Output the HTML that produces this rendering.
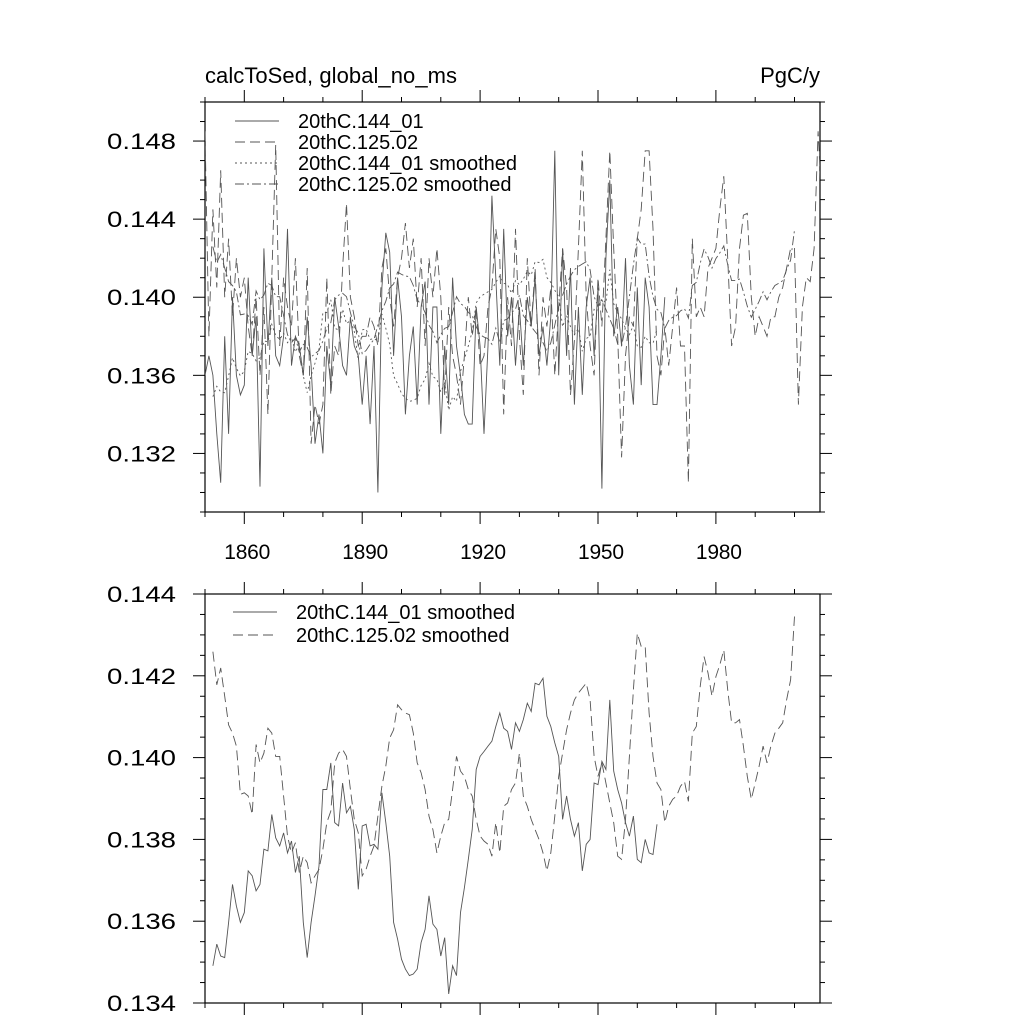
<!DOCTYPE html>
<html><head><meta charset="utf-8"><style>
html,body{margin:0;padding:0;background:#fff;}
svg{display:block;font-family:"Liberation Sans",sans-serif;}
</style></head><body>
<svg id="chart" width="1024" height="1024" viewBox="0 0 1024 1024">
<text x="205" y="83" font-size="22" textLength="252">calcToSed, global_no_ms</text>
<text x="820" y="83" font-size="22" text-anchor="end">PgC/y</text>
<g id="top"></g>
<g id="bot"></g>
</svg>
<script>
const xTickYears = [1860,1890,1920,1950,1980];
const xTickLabels = ["1860","1890","1920","1950","1980"];
const topYTicks = [0.132,0.136,0.140,0.144,0.148];
const topYLabels = ["0.132","0.136","0.140","0.144","0.148"];
const botYTicks = [0.134,0.136,0.138,0.140,0.142,0.144];
const botYLabels = ["0.134","0.136","0.138","0.140","0.142","0.144"];
const rawStartYear = 1850;
const smoothStartYear = 1852;
const run144 = [0.136,0.137,0.136,0.133,0.1305,0.138,0.133,0.140,0.136,0.135,0.1355,0.141,0.137,0.139,0.1303,0.1425,0.1375,0.141,0.137,0.1365,0.138,0.1435,0.1365,0.138,0.1375,0.136,0.139,0.1365,0.1325,0.134,0.132,0.1375,0.1355,0.140,0.1385,0.1365,0.136,0.139,0.1375,0.137,0.1345,0.137,0.1335,0.1375,0.1300,0.1405,0.1433,0.1423,0.137,0.141,0.139,0.134,0.137,0.1385,0.1345,0.1395,0.1408,0.1345,0.1395,0.1395,0.133,0.1375,0.1345,0.141,0.1375,0.136,0.134,0.1335,0.1335,0.1395,0.1375,0.133,0.1375,0.1452,0.141,0.1365,0.1435,0.138,0.140,0.1365,0.1395,0.1365,0.140,0.1385,0.141,0.137,0.1385,0.1365,0.139,0.1475,0.136,0.1425,0.137,0.1415,0.1345,0.1395,0.135,0.1395,0.141,0.137,0.1405,0.1302,0.142,0.146,0.138,0.1395,0.1375,0.142,0.1365,0.1345,0.1405,0.1355,0.141,0.1395,0.1345,0.1345,0.137,0.140];
const run125 = [0.1485,0.138,0.1445,0.1405,0.1465,0.140,0.143,0.139,0.142,0.140,0.141,0.1385,0.137,0.140,0.136,0.1395,0.134,0.141,0.1478,0.1375,0.141,0.1395,0.1385,0.142,0.137,0.136,0.1415,0.1325,0.1345,0.1335,0.1345,0.141,0.135,0.1375,0.137,0.1415,0.1448,0.140,0.139,0.1375,0.138,0.138,0.139,0.1385,0.1375,0.1415,0.1425,0.140,0.1385,0.141,0.142,0.1438,0.1415,0.143,0.1395,0.142,0.1375,0.142,0.140,0.1425,0.140,0.135,0.1395,0.137,0.136,0.1345,0.137,0.140,0.138,0.1395,0.1365,0.137,0.1395,0.1405,0.1435,0.142,0.134,0.140,0.1375,0.1435,0.138,0.135,0.142,0.1385,0.1415,0.136,0.140,0.1385,0.1405,0.136,0.1395,0.1425,0.1405,0.135,0.1378,0.1425,0.1475,0.140,0.1375,0.136,0.141,0.1385,0.143,0.1475,0.1425,0.138,0.1318,0.137,0.139,0.1385,0.143,0.1445,0.1475,0.1475,0.1435,0.137,0.136,0.1385,0.1365,0.1385,0.1405,0.1375,0.1375,0.1305,0.143,0.139,0.1395,0.139,0.1415,0.142,0.1425,0.1445,0.1462,0.142,0.1375,0.1385,0.1425,0.1442,0.1443,0.140,0.138,0.139,0.1385,0.138,0.139,0.139,0.140,0.1405,0.1415,0.1425,0.1425,0.1345,0.1395,0.141,0.1408,0.1425,0.1485,0.1445];
const smooth144 = [134.91,135.44,135.15,135.11,135.97,136.90,136.37,135.97,136.21,137.23,137.11,136.74,136.90,137.76,137.72,138.61,138.04,137.84,138.16,137.67,137.96,137.19,137.59,135.97,135.11,135.97,136.62,137.35,139.22,139.22,139.87,138.41,138.33,139.38,138.65,138.81,138.24,136.78,138.33,138.37,137.84,137.88,137.76,139.14,138.41,137.59,135.97,135.56,135.07,134.83,134.67,134.71,134.83,135.48,135.80,136.62,135.93,135.80,135.15,135.60,134.22,134.91,134.67,136.21,136.82,137.51,138.24,139.71,140.03,140.15,140.28,140.40,140.76,141.09,140.72,140.64,140.20,140.85,140.64,140.93,141.33,141.13,141.82,141.78,141.94,141.01,140.76,140.36,140.03,138.49,139.06,138.49,138.08,138.41,137.23,137.88,138.00,139.38,139.34,139.91,139.71,141.41,139.67,139.22,138.89,138.41,138.08,138.57,137.51,137.43,138.00,137.67,137.63,138.37];
const smooth125 = [142.59,141.78,142.19,141.50,140.80,140.60,140.28,139.10,139.14,139.06,138.61,140.32,139.87,140.11,140.72,140.60,140.03,140.03,139.06,138.08,137.67,137.92,137.19,137.59,137.43,136.94,137.11,137.27,137.76,138.41,138.69,139.87,140.11,140.20,140.03,139.22,138.49,138.16,137.11,137.27,137.59,137.84,138.57,139.30,139.79,140.48,140.68,141.29,141.17,141.09,141.05,140.60,139.87,139.63,139.22,138.57,138.24,137.67,138.08,138.41,138.49,139.22,140.03,139.67,139.54,139.22,139.06,138.49,138.08,137.96,137.88,137.59,138.41,137.67,138.81,138.89,139.22,139.38,140.11,139.06,138.81,138.49,138.24,138.00,137.67,137.23,137.67,138.57,139.54,140.11,140.68,141.09,141.41,141.58,141.70,141.82,141.41,140.03,139.54,139.87,139.38,138.89,138.41,137.59,137.51,138.49,140.03,141.66,143.04,142.72,142.72,141.09,140.03,139.38,139.22,138.41,138.81,138.98,139.06,139.30,139.42,138.93,140.60,140.76,141.74,142.47,142.07,141.50,141.98,142.27,142.63,141.66,140.85,140.85,140.93,140.28,139.54,138.98,139.38,139.79,140.28,139.87,140.28,140.60,140.72,140.85,141.41,141.90,143.45];

const NS='http://www.w3.org/2000/svg';
const L=205,R=820,YR0=1850,PXY=3.93;
function xs(yr){return L+(yr-YR0)*PXY;}
function mk(tag,attrs,parent){const e=document.createElementNS(NS,tag);for(const k in attrs)e.setAttribute(k,attrs[k]);parent.appendChild(e);return e;}
const COL='#555';

function panel(g,T,B,ymin,ymax,yTicks,yLabels,minorStep,showXLabels,clipId){
  const ys=v=>B-(v-ymin)/(ymax-ymin)*(B-T);
  const defs=mk('defs',{},g);
  const cp=mk('clipPath',{id:clipId},defs);
  mk('rect',{x:L,y:T,width:R-L,height:B-T},cp);
  for(let yr=1850;yr<=2000;yr+=10){
    const x=xs(yr);const major=(yr-1860)%30===0;const len=major?12:5;
    const t1=mk('line',{x1:x,x2:x,y1:B,y2:B+len,stroke:'#000','stroke-width':1},g);
    
    
    const t2=mk('line',{x1:x,x2:x,y1:T,y2:T-len,stroke:'#000','stroke-width':1},g);
    
    
  }
  if(showXLabels){
    xTickYears.forEach((yr,i)=>{
      const t=mk('text',{x:xs(yr)+3,y:B+47,'font-size':21,'text-anchor':'middle',textLength:46},g);
      t.textContent=xTickLabels[i];
      
      
    });
  }
  const n=Math.round((ymax-ymin)/minorStep);
  for(let i=0;i<=n;i++){
    const v=ymin+i*minorStep;const y=ys(v);
    const major=yTicks.some(t=>Math.abs(t-v)<1e-7);const len=major?12:5;
    const a=mk('line',{x1:L,x2:L-len,y1:y,y2:y,stroke:'#000','stroke-width':1},g);
    
    
    const b=mk('line',{x1:R,x2:R+len,y1:y,y2:y,stroke:'#000','stroke-width':1},g);
    
    
  }
  yTicks.forEach((v,i)=>{
    const t=mk('text',{x:107,y:ys(v)+8,'font-size':22,textLength:69,lengthAdjust:'spacingAndGlyphs'},g);
    t.textContent=yLabels[i];
    
    
  });
  const fr=mk('rect',{x:L,y:T,width:R-L,height:B-T,fill:'none',stroke:'#000','stroke-width':1.2},g);
  
  
  return ys;
}
function series(g,vals,start,ys,scale,dash,name,clipId){
  const pts=vals.map((v,i)=>xs(start+i).toFixed(1)+','+ys(v*scale).toFixed(1)).join(' ');
  const p=mk('polyline',{points:pts,fill:'none',stroke:COL,'stroke-width':0.9,'clip-path':'url(#'+clipId+')'},g);
  if(dash)p.setAttribute('stroke-dasharray',dash);
  
  
}
function legend(g,items,x0,y0,dy){
  items.forEach((it,i)=>{
    const y=y0+i*dy;
    const l=mk('line',{x1:x0,x2:x0+44,y1:y,y2:y,stroke:COL,'stroke-width':0.9},g);
    if(it[1])l.setAttribute('stroke-dasharray',it[1]);
    
    
    const t=mk('text',{x:x0+63,y:y+7,'font-size':20},g);
    t.textContent=it[0];
    
    
  });
}
const gt=document.getElementById('top');
const ysT=panel(gt,102,512,0.129,0.150,topYTicks,topYLabels,0.001,true,'clipT');
series(gt,run144,rawStartYear,ysT,1,null,'series-144-01','clipT');
series(gt,run125,rawStartYear,ysT,1,'10,5','series-125-02','clipT');
series(gt,smooth144,smoothStartYear,ysT,0.001,'2,3','series-144-01-smoothed','clipT');
series(gt,smooth125,smoothStartYear,ysT,0.001,'9,3,2,3','series-125-02-smoothed','clipT');
legend(gt,[["20thC.144_01",null],["20thC.125.02","10,5"],["20thC.144_01 smoothed","2,3"],["20thC.125.02 smoothed","9,3,2,3"]],235,121,21);
const gb=document.getElementById('bot');
const ysB=panel(gb,594,1003,0.134,0.144,botYTicks,botYLabels,0.0005,false,'clipB');
series(gb,smooth144,smoothStartYear,ysB,0.001,null,'smoothed-144-01','clipB');
series(gb,smooth125,smoothStartYear,ysB,0.001,'10,5','smoothed-125-02','clipB');
legend(gb,[["20thC.144_01 smoothed",null],["20thC.125.02 smoothed","10,5"]],233,612,23);
</script>
</body></html>
